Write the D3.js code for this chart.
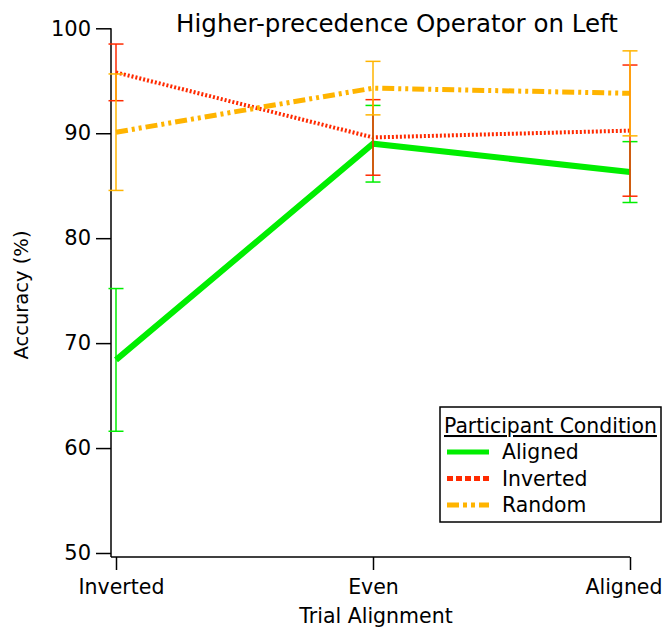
<!DOCTYPE html>
<html>
<head>
<meta charset="utf-8">
<script src="https://cdn.jsdelivr.net/npm/d3@7"></script>
<style>
body { margin: 0; background: #fff; }
text { font-family: "DejaVu Sans", sans-serif; fill: #000; }
</style>
</head>
<body>
<svg width="664" height="628"></svg>
<script>
var svg = d3.select('svg');

// data
var trialAlignment = ['Inverted', 'Even', 'Aligned'];
var yTicks = [50, 60, 70, 80, 90, 100];

var alignedMean = [68.4, 89.0, 86.3];
var alignedErr = [6.8, 3.65, 2.9];
var invertedMean = [95.8, 89.6, 90.25];
var invertedErr = [2.7, 3.6, 6.25];
var randomMean = [90.1, 94.3, 93.8];
var randomErr = [5.55, 2.55, 4.05];

var series = [
    {name: 'Aligned', mean: alignedMean, err: alignedErr, color: '#00ee00', width: 6, dash: null, legendDash: null},
    {name: 'Inverted', mean: invertedMean, err: invertedErr, color: '#ff2a00', width: 4, dash: '2,2', legendDash: '6,3'},
    {name: 'Random', mean: randomMean, err: randomErr, color: '#ffb400', width: 5, dash: '12,4,3,4,3,4', legendDash: '12,4,4,4,4,4'}
];

var scaleX = d3.scalePoint().domain(trialAlignment).range([116, 630]);
var scaleY = d3.scaleLinear().domain([50, 100]).range([553, 28.3]);

// y axis
var yAxis = svg.append('g')
    .attr('transform', 'translate(111,0)')
    .call(d3.axisLeft(scaleY).tickValues(yTicks).tickSize(15).tickPadding(5));
yAxis.select('.domain').attr('d', 'M0,' + scaleY(100) + 'V557');
yAxis.selectAll('text').style('font-size', '21px');
yAxis.selectAll('line, path').attr('stroke-width', 1.5);

// x axis
var xAxis = svg.append('g')
    .attr('transform', 'translate(0,557)')
    .call(d3.axisBottom(scaleX).tickSize(13).tickPadding(9));
xAxis.select('.domain').attr('d', 'M111,0H630');
xAxis.selectAll('text').style('font-size', '20.5px');
xAxis.selectAll('line, path').attr('stroke-width', 1.5);
// keep the end labels inside the frame, as in the original
xAxis.selectAll('.tick text')
    .attr('x', function(d){ return d == 'Inverted' ? 5 : (d == 'Aligned' ? 32 : 0); })
    .attr('text-anchor', function(d){ return d == 'Aligned' ? 'end' : 'middle'; });

var line = d3.line()
    .x(function(d, i){ return scaleX(trialAlignment[i]); })
    .y(function(d){ return scaleY(d); });

series.forEach(function(s){
    svg.append('path')
        .attr('d', line(s.mean))
        .attr('fill', 'none')
        .attr('stroke', s.color)
        .attr('stroke-width', s.width)
        .attr('stroke-dasharray', s.dash);
});

series.forEach(function(s){
    var g = svg.append('g').attr('stroke', s.color).attr('stroke-width', 1.5);
    s.mean.forEach(function(m, i){
        var x = scaleX(trialAlignment[i]);
        var top = scaleY(m + s.err[i]);
        var bot = scaleY(m - s.err[i]);
        g.append('line').attr('x1', x).attr('x2', x).attr('y1', top).attr('y2', bot);
        g.append('line').attr('x1', x - 7.5).attr('x2', x + 7.5).attr('y1', top).attr('y2', top);
        g.append('line').attr('x1', x - 7.5).attr('x2', x + 7.5).attr('y1', bot).attr('y2', bot);
    });
});

// titles
svg.append('text')
    .text('Higher-precedence Operator on Left')
    .attr('x', 397).attr('y', 32)
    .attr('text-anchor', 'middle')
    .style('font-size', '24.5px');

svg.append('text')
    .text('Trial Alignment')
    .attr('x', 376).attr('y', 623)
    .attr('text-anchor', 'middle')
    .style('font-size', '20.5px');

svg.append('text')
    .text('Accuracy (%)')
    .attr('transform', 'translate(28,295)rotate(-90)')
    .attr('text-anchor', 'middle')
    .style('font-size', '19.5px');

// legend
var legend = svg.append('g');
legend.append('rect')
    .attr('x', 440).attr('y', 407).attr('width', 221).attr('height', 115)
    .attr('fill', '#fff').attr('stroke', '#000').attr('stroke-width', 1.5);
legend.append('text')
    .text('Participant Condition')
    .attr('x', 444).attr('y', 433)
    .style('font-size', '20.4px')
    .style('text-decoration', 'underline');

series.forEach(function(s, i){
    var y = 452 + i * 26.5;
    legend.append('line')
        .attr('x1', 447).attr('x2', 489).attr('y1', y).attr('y2', y)
        .attr('stroke', s.color).attr('stroke-width', 5)
        .attr('stroke-dasharray', s.legendDash);
    legend.append('text')
        .text(s.name)
        .attr('x', 502).attr('y', y + 7)
        .style('font-size', '20.4px');
});
</script>
</body>
</html>
